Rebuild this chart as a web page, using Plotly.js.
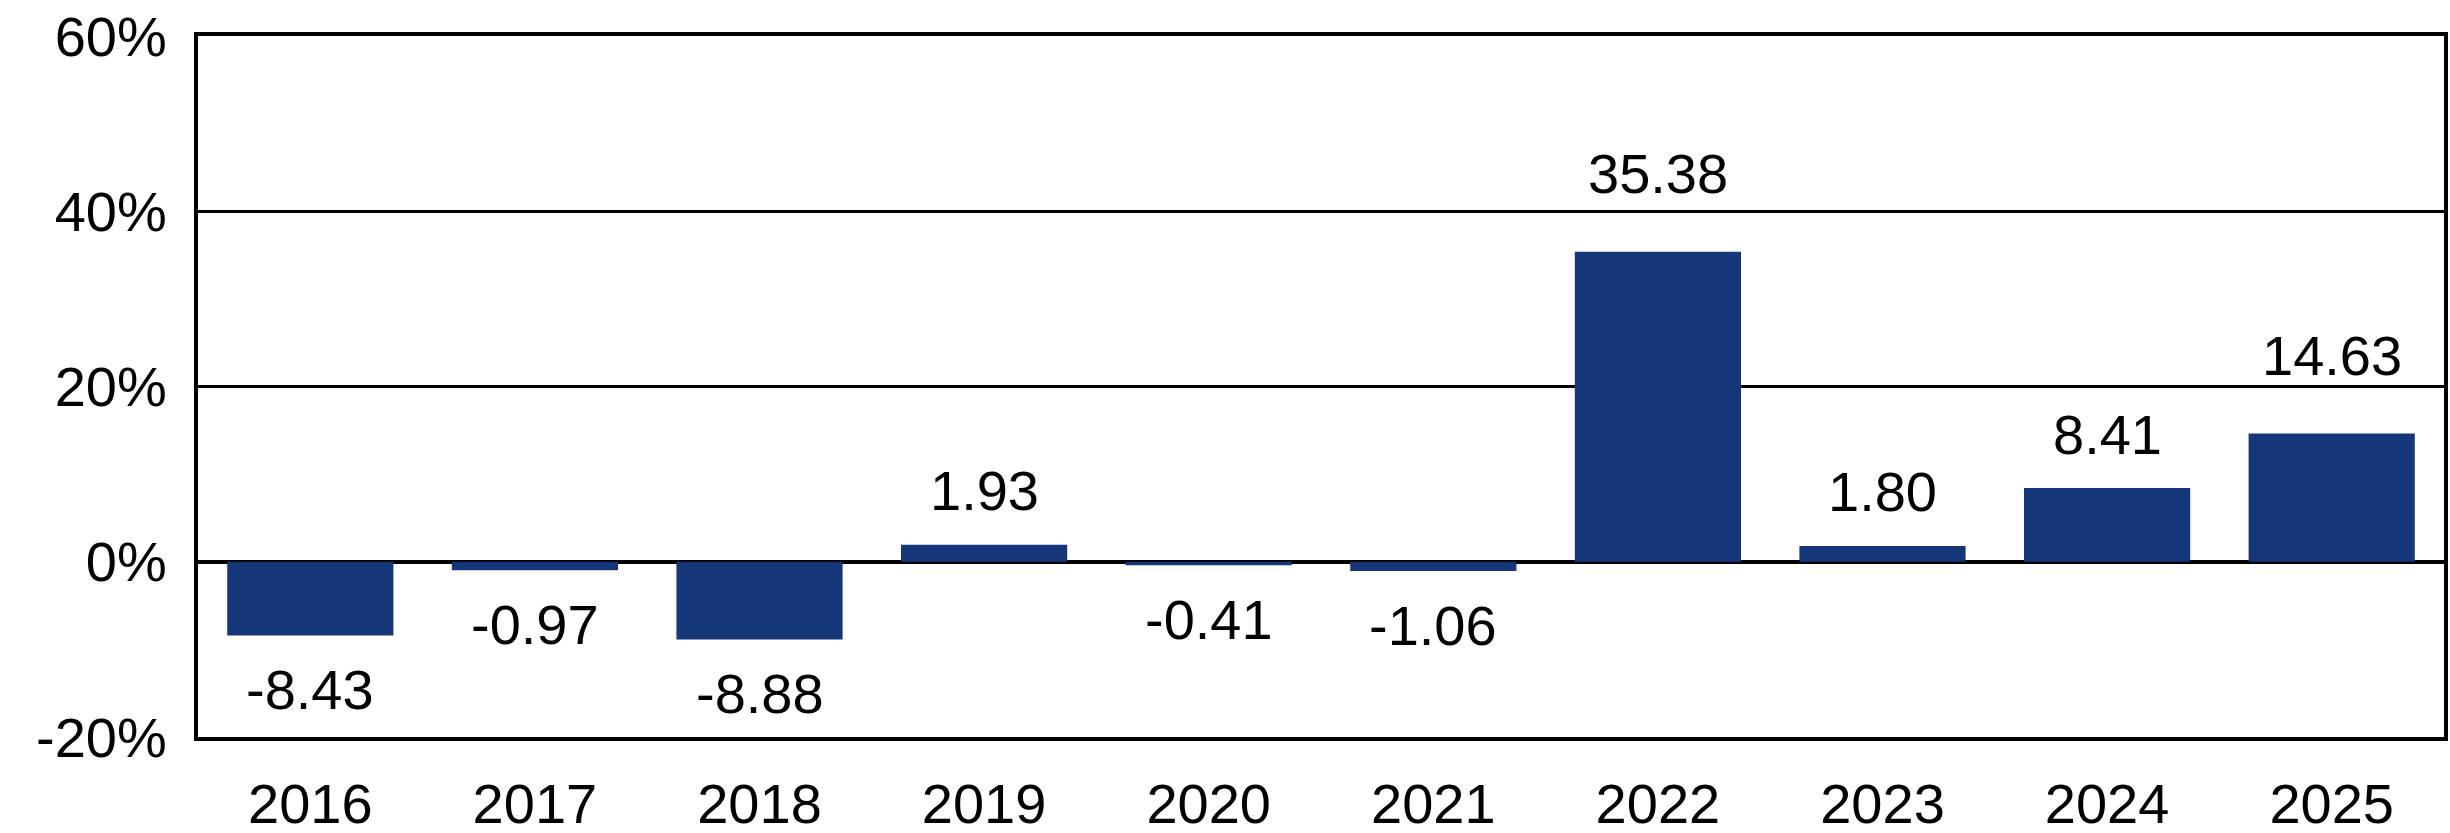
<!DOCTYPE html>
<html>
<head>
<meta charset="utf-8">
<script src="https://cdn.plot.ly/plotly-3.0.1.min.js"></script>
<style>html,body{margin:0;padding:0;background:#fff;}#chart{width:2450px;height:833px;}</style>
</head>
<body>
<div id="chart"></div>
<script>
var years = ['2016','2017','2018','2019','2020','2021','2022','2023','2024','2025'];
var returns = [-8.43, -0.97, -8.88, 1.93, -0.41, -1.06, 35.38, 1.80, 8.41, 14.63];
var labels = ['-8.43','-0.97','-8.88','1.93','-0.41','-1.06','35.38','1.80','8.41','14.63'];
var yTicks = [-20, 0, 20, 40, 60];
var yTickText = ['-20%','0%','20%','40%','60%'];

var FONT = 'Liberation Sans, Arial, Helvetica, sans-serif';
var H = 833, MT = 36, MB = 96;
var pxPerUnit = (H - MT - MB) / (60 - (-20));
var BASE_SHIFT = 54;

var annotations = years.map(function(y, i){
  var v = returns[i];
  var shift = v >= 0 ? BASE_SHIFT : -BASE_SHIFT;
  // nudge a label away if it would sit on a gridline
  var centre = v + shift / pxPerUnit;
  yTicks.forEach(function(t){
    if (t !== 0 && Math.abs(centre - t) < 3.5) shift += (shift > 0 ? 24 : -24);
  });
  return {
    x: i, y: v, xref: 'x', yref: 'y',
    text: labels[i], showarrow: false,
    yanchor: 'middle', xanchor: 'center',
    yshift: shift,
    font: {family: FONT, size: 56, color: '#000'}
  };
});

var trace = {
  type: 'bar', x: years, y: returns,
  marker: {color: '#15377a', line: {width: 0}},
  hoverinfo: 'skip'
};

var layout = {
  width: 2450, height: H,
  margin: {l: 198, r: 6, t: MT, b: MB},
  paper_bgcolor: '#fff', plot_bgcolor: '#fff',
  showlegend: false,
  bargap: 0.26,
  font: {family: FONT, size: 56, color: '#000'},
  xaxis: {
    type: 'category',
    categoryorder: 'array', categoryarray: years,
    range: [-0.5, years.length - 0.5], autorange: false,
    showgrid: false, zeroline: false,
    showline: true, linecolor: '#000', linewidth: 4, mirror: true,
    ticks: '', ticklabelstandoff: 15,
    tickfont: {family: FONT, size: 56, color: '#000'}
  },
  yaxis: {
    range: [-20, 60], autorange: false,
    tickvals: yTicks, ticktext: yTickText,
    showgrid: true, gridcolor: '#000', gridwidth: 3,
    zeroline: true, zerolinecolor: '#000', zerolinewidth: 4,
    showline: true, linecolor: '#000', linewidth: 4, mirror: true,
    ticks: '', ticklabelstandoff: 16,
    tickfont: {family: FONT, size: 56, color: '#000'}
  },
  annotations: annotations
};

Plotly.newPlot('chart', [trace], layout, {staticPlot: true, displayModeBar: false});
</script>
</body>
</html>
